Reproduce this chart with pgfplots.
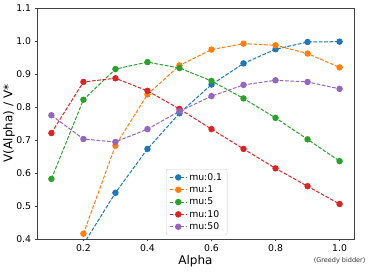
\documentclass[border=0pt]{standalone}
\usepackage{pgfplots}
\pgfplotsset{compat=1.18}
\usepackage{fontspec}
\setmainfont{DejaVu Sans}
\definecolor{c0}{HTML}{1F77B4}
\definecolor{c1}{HTML}{FF7F0E}
\definecolor{c2}{HTML}{2CA02C}
\definecolor{c3}{HTML}{D62728}
\definecolor{c4}{HTML}{9467BD}
\begin{document}
\begin{tikzpicture}
\useasboundingbox (-37pt,-33pt) rectangle (337pt,239pt);
\begin{axis}[
  at={(0,0)}, anchor=south west,
  scale only axis, width=317pt, height=231pt,
  xmin=0.055, xmax=1.045, ymin=0.4, ymax=1.1,
  xtick={0.2,0.4,0.6,0.8,1.0},
  ytick={0.4,0.5,0.6,0.7,0.8,0.9,1.0,1.1},
  tick align=outside, tick pos=left, major tick length=2.4pt,
  axis line style={black!75}, tick style={black!75},
  /pgf/number format/assume math mode=true,
  /pgf/number format/fixed, /pgf/number format/fixed zerofill, /pgf/number format/precision=1,
  ticklabel style={font=\fontsize{9.3}{11}\selectfont},
  xlabel={Alpha}, ylabel={V(Alpha) / V*},
  label style={font=\fontsize{12}{14}\selectfont},
  xlabel style={at={(axis description cs:0.5,-0.095)}, anchor=center},
  ylabel style={at={(axis description cs:-0.088,0.5)}, anchor=center},
  every axis plot/.append style={line width=1pt, dash pattern=on 3.7pt off 1.6pt, mark=*, mark size=2.7pt, mark options={solid}},
  legend style={at={(rel axis cs:0.407,0.303)}, anchor=north west, font=\fontsize{9.3}{11}\selectfont, draw=black!20, rounded corners=2pt, row sep=0pt},
  legend cell align=left,
]
\addplot[color=c0] coordinates {(0.2,0.384) (0.3,0.540) (0.4,0.673) (0.5,0.781) (0.6,0.868) (0.7,0.932) (0.8,0.975) (0.9,0.997) (1.0,0.998)};
\addlegendentry{mu:0.1}
\addplot[color=c1] coordinates {(0.2,0.416) (0.3,0.683) (0.4,0.838) (0.5,0.926) (0.6,0.974) (0.7,0.992) (0.8,0.987) (0.9,0.962) (1.0,0.920)};
\addlegendentry{mu:1}
\addplot[color=c2] coordinates {(0.1,0.582) (0.2,0.822) (0.3,0.915) (0.4,0.936) (0.5,0.918) (0.6,0.879) (0.7,0.826) (0.8,0.767) (0.9,0.702) (1.0,0.636)};
\addlegendentry{mu:5}
\addplot[color=c3] coordinates {(0.1,0.721) (0.2,0.876) (0.3,0.887) (0.4,0.849) (0.5,0.794) (0.6,0.733) (0.7,0.673) (0.8,0.614) (0.9,0.560) (1.0,0.506)};
\addlegendentry{mu:10}
\addplot[color=c4] coordinates {(0.1,0.775) (0.2,0.703) (0.3,0.694) (0.4,0.733) (0.5,0.787) (0.6,0.833) (0.7,0.867) (0.8,0.881) (0.9,0.876) (1.0,0.855)};
\addlegendentry{mu:50}
\coordinate (gb) at (axis cs:1.0,0.4);
\end{axis}
\node[font=\fontsize{6.5}{8}\selectfont, anchor=center, text=black!80] at ([yshift=-22pt]gb) {(Greedy bidder)};
\end{tikzpicture}
\end{document}
